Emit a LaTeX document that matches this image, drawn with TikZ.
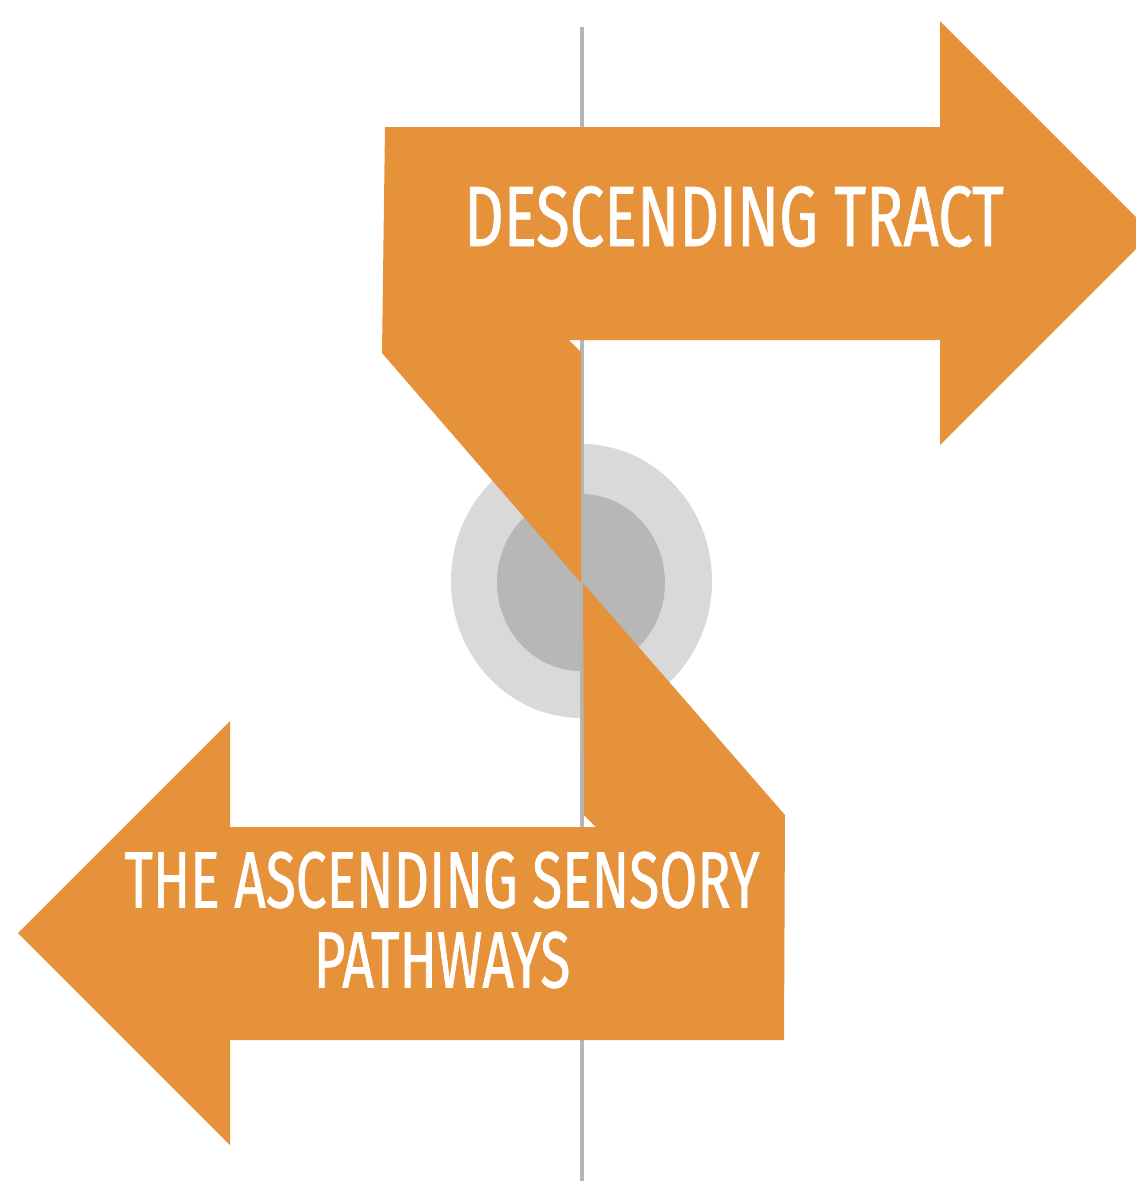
\documentclass[tikz,border=0pt]{standalone}
\usepackage{fontspec}
\newfontfamily\tractfont[FakeStretch=0.72, FakeBold=0.8]{Fira Sans}
\newfontfamily\pathfont[FakeStretch=0.69, FakeBold=0.8]{Fira Sans}
\definecolor{tractorange}{HTML}{E6923A}
\definecolor{ringlight}{HTML}{D9D9D9}
\definecolor{ringdark}{HTML}{B7B7B7}
\definecolor{axisgray}{HTML}{B5B5B5}

\begin{document}
\begin{tikzpicture}[x = 0.02cm, y = -0.02cm, % one unit per pixel, y going down
                line join = miter
            ]

            \tikzstyle{tract}=[fill = tractorange]
            \tikzstyle{label}=[text = white, inner sep = 0pt, align = center]

            \useasboundingbox (0,0) rectangle (1136,1181);
            \clip (0,0) rectangle (1136,1181);

            % the two rings in the middle
            \fill[ringlight] (581.5,581) ellipse [x radius = 130.5, y radius = 137];
            \fill[ringdark] (581,582.5) ellipse [x radius = 84, y radius = 88.5];

            % the midline
            \coordinate (top) at (582,27); \coordinate (bottom) at (582,1181);
            \draw[axisgray, line width = 0.075cm] (top) -- (bottom);

            % upper arrow, pointing right
            \fill[tract] (385,127) -- (940,127) -- (940,21) -- (1152,233)
            -- (940,445) -- (940,340) -- (569,340) -- (581,352) -- (581,583)
            -- (382,353) -- cycle;

            % lower arrow, pointing left
            \fill[tract] (784,1040) -- (230,1040) -- (230,1145) -- (18,933)
            -- (230,721) -- (230,827) -- (596,827) -- (584,815) -- (583,583)
            -- (785,815) -- cycle;

            \node[label, font = \tractfont\fontsize{48.7}{50}\selectfont]
            (desc) at (734,216.5) {DESCENDING TRACT};
            \node[label, font = \pathfont\fontsize{45.4}{45.5}\selectfont]
            (asc) at (442,920) {THE ASCENDING SENSORY\\PATHWAYS};
        \end{tikzpicture}
\end{document}
